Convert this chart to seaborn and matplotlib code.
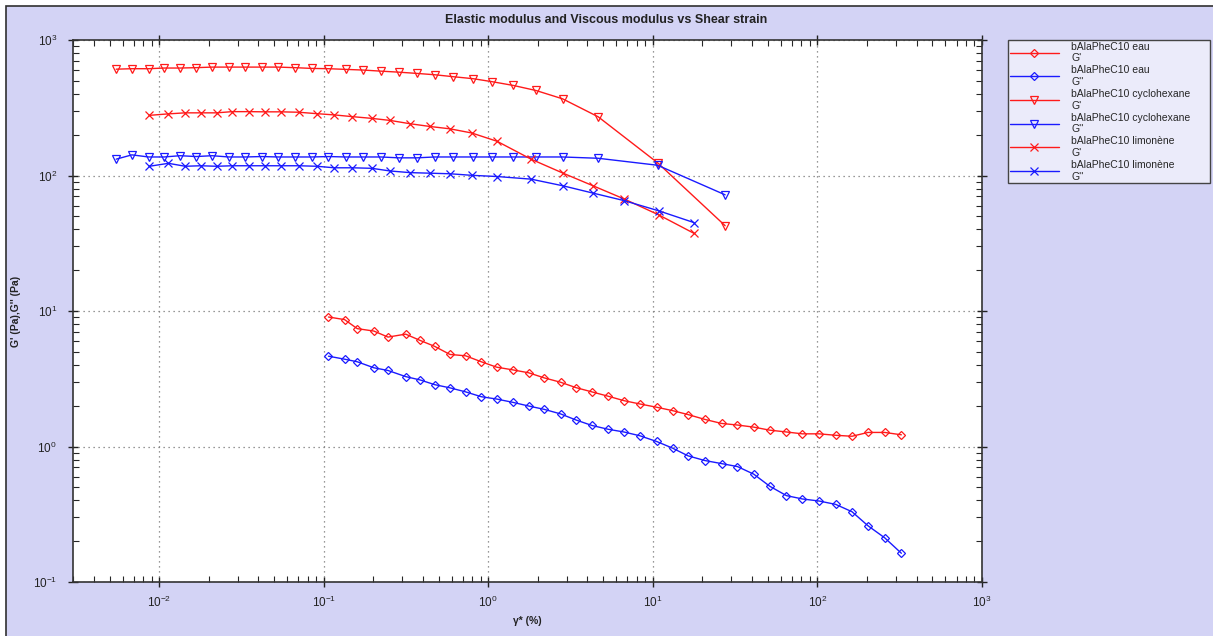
import numpy as np
import pandas as pd
import matplotlib
matplotlib.use("Agg")
import matplotlib.pyplot as plt
import seaborn as sns
from matplotlib.patches import Rectangle

# valeurs (gamma* en %, modules en Pa)
eau_x = [0.107, 0.134, 0.160, 0.202, 0.246, 0.315, 0.385, 0.473, 0.585, 0.729,
         0.907, 1.125, 1.406, 1.759, 2.188, 2.752, 3.409, 4.263, 5.354, 6.669,
         8.340, 10.53, 13.17, 16.38, 20.69, 26.14, 32.68, 41.04, 51.33, 64.83,
         81.10, 102.3, 129.1, 162.3, 202.9, 256.2, 323.6]
eau_gp = [9.03, 8.64, 7.41, 7.11, 6.42, 6.75, 6.07, 5.48, 4.78, 4.67,
          4.22, 3.85, 3.68, 3.50, 3.21, 2.98, 2.72, 2.53, 2.35, 2.18,
          2.06, 1.95, 1.84, 1.72, 1.585, 1.48, 1.44, 1.39, 1.32, 1.28,
          1.24, 1.24, 1.21, 1.19, 1.27, 1.27, 1.22]
eau_gpp = [4.64, 4.41, 4.22, 3.81, 3.64, 3.28, 3.10, 2.86, 2.71, 2.53,
           2.33, 2.24, 2.12, 1.99, 1.88, 1.74, 1.57, 1.43, 1.34, 1.28,
           1.20, 1.09, 0.973, 0.853, 0.788, 0.748, 0.711, 0.625, 0.509, 0.434,
           0.410, 0.396, 0.374, 0.330, 0.260, 0.212, 0.163]

cyclo_x = [0.00549, 0.00684, 0.00863, 0.01074, 0.01343, 0.0168, 0.0210, 0.0265,
           0.0333, 0.0421, 0.0529, 0.0668, 0.0848, 0.107, 0.136, 0.174, 0.223,
           0.286, 0.367, 0.473, 0.613, 0.811, 1.06, 1.42, 1.95, 2.83, 4.66,
           10.7, 27.5]
cyclo_gp = [609, 614, 614, 621, 621, 625, 631, 631, 631, 631, 631, 625, 617,
            614, 607, 600, 589, 579, 567, 554, 536, 518, 492, 462, 424, 368,
            271, 124, 42.6]
cyclo_gpp = [132, 142, 137, 137, 140, 138, 140, 137, 137, 138, 137, 137, 137,
             138, 137, 137, 137, 135, 135, 137, 137, 137, 137, 137, 137, 137,
             134, 119, 72]

limo_x = [0.00874, 0.0114, 0.0144, 0.0179, 0.0224, 0.0278, 0.0351, 0.0440,
          0.0553, 0.0706, 0.0908, 0.116, 0.149, 0.196, 0.253, 0.335, 0.443,
          0.586, 0.793, 1.13, 1.82, 2.85, 4.34, 6.68, 10.9, 17.8]
limo_gp = [278, 285, 290, 290, 290, 296, 296, 295, 295, 293, 286, 280, 272,
           264, 255, 241, 230, 221, 206, 179, 132, 104, 83.9, 67.2, 51.1, 37.4]
limo_gpp = [117, 123, 117, 118, 117, 118, 118, 118, 118, 118, 117, 114, 114,
            113, 108, 105, 104, 103, 100.3, 98.3, 94.0, 83.9, 74.1, 65.3, 54.8,
            44.9]

labels = ["bAlaPheC10 eau\nG'", "bAlaPheC10 eau\nG''",
          "bAlaPheC10 cyclohexane\nG'", "bAlaPheC10 cyclohexane\nG''",
          "bAlaPheC10 limonène\nG'", "bAlaPheC10 limonène\nG''"]

series = [
    (eau_x, eau_gp, "#ff1a1a", "D", 4.0),
    (eau_x, eau_gpp, "#1a1aff", "D", 4.0),
    (cyclo_x, cyclo_gp, "#ff1a1a", "v", 5.5),
    (cyclo_x, cyclo_gpp, "#1a1aff", "v", 5.5),
    (limo_x, limo_gp, "#ff1a1a", "x", 6.0),
    (limo_x, limo_gpp, "#1a1aff", "x", 6.0),
]

sns.set_style("ticks")
plt.rcParams['font.family'] = ['Liberation Sans', 'DejaVu Sans']
plt.rcParams['mathtext.default'] = 'regular'

lavande = "#d3d3f5"
fig = plt.figure(figsize=(12.13, 6.36), dpi=100, facecolor="white")
fig.patches.append(Rectangle((6 / 1213, -0.01), 1.02, 1 - 6 / 636 + 0.01,
                             transform=fig.transFigure, facecolor=lavande,
                             edgecolor="#303030", linewidth=1.2, zorder=-10))

ax = fig.add_axes([73 / 1213, 1 - 582 / 636, 909 / 1213, 542 / 636])
ax.set_facecolor("white")

for (x, y, c, m, ms), lab in zip(series, labels):
    df = pd.DataFrame({"x": x, "y": y})
    sns.lineplot(data=df, x="x", y="y", ax=ax, color=c, marker=m,
                 markersize=ms, markerfacecolor="none", markeredgecolor=c,
                 markeredgewidth=0.9, linewidth=1.0, sort=False,
                 estimator=None, label=lab)

ax.set_xscale("log")
ax.set_yscale("log")
ax.set_xlim(0.003, 1000)
ax.set_ylim(0.1, 1000)
ax.set_xlabel("")
ax.set_ylabel("")

ax.grid(True, which="major", color="#777777", linestyle=(0, (1, 3)), linewidth=0.9)
ax.tick_params(which="major", direction="inout", length=7, width=1,
               top=True, right=True, labelsize=8.5, colors="#222222", pad=6)
ax.tick_params(which="minor", direction="in", length=4, width=0.8,
               top=True, right=True)
ax.tick_params(axis="y", pad=8)
for s in ax.spines.values():
    s.set_color("#333333")
    s.set_linewidth(1.2)

leg = ax.legend(loc="upper left",
                bbox_to_anchor=(1008 / 1213, 1 - 183 / 636, 202 / 1213, 143 / 636),
                bbox_transform=fig.transFigure, mode="expand",
                fontsize=7.5, frameon=True,
                fancybox=False, edgecolor="#444444", facecolor="#ebebfa",
                handlelength=4.7, labelspacing=0.2, borderpad=0.15,
                handletextpad=1.2, numpoints=1, borderaxespad=0)
leg.get_frame().set_linewidth(1.0)
leg.get_frame().set_alpha(1)

fig.text(0.5, 1 - 20 / 636, "Elastic modulus and Viscous modulus vs Shear strain",
         ha="center", va="center", fontsize=9, fontweight="bold", color="#222222")
fig.text(16 / 1213, 1 - 311 / 636, "G' (Pa),G'' (Pa)", rotation=90,
         ha="center", va="center", fontsize=7.5, fontweight="bold", color="#222222")
fig.text(527 / 1213, 1 - 621 / 636, "γ* (%)", ha="center", va="center",
         fontsize=7.5, fontweight="bold", color="#222222")

fig.savefig("out.png", dpi=100, facecolor=fig.get_facecolor())
